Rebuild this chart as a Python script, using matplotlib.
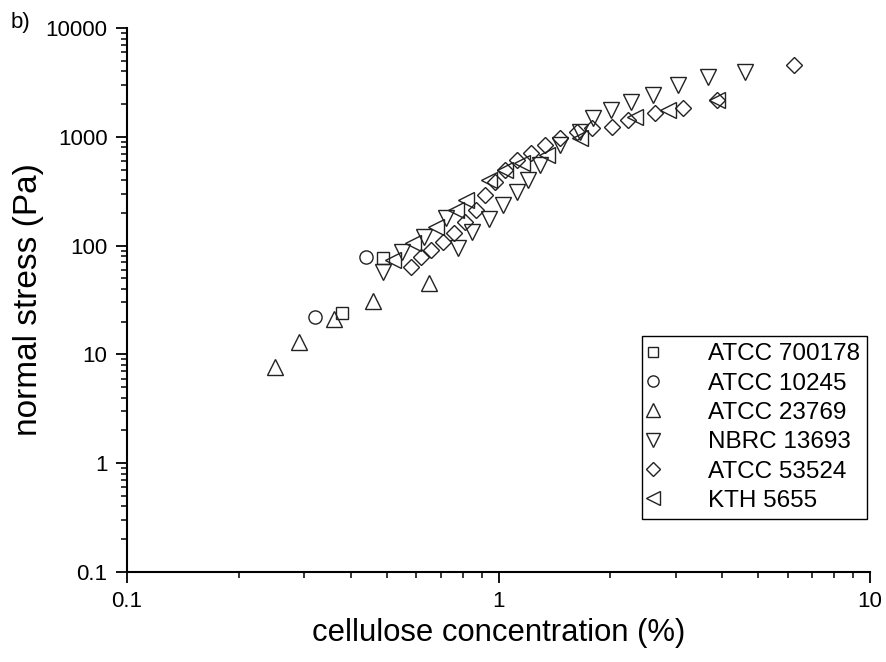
import numpy as np
import matplotlib.pyplot as plt
from matplotlib.ticker import NullFormatter, FixedLocator, FixedFormatter

plt.rcParams['font.family'] = ['Liberation Sans', 'DejaVu Sans']

# cellulose concentration (%) and normal stress (Pa) per strain
atcc700178_x = [0.38, 0.49]
atcc700178_y = [24, 77]

atcc10245_x = [0.32, 0.44]
atcc10245_y = [22, 78]

atcc23769_x = [0.25, 0.29, 0.36, 0.46, 0.65]
atcc23769_y = [7.6, 13, 21, 31, 45]

nbrc13693_x = [0.49, 0.55, 0.63, 0.72,
               0.78, 0.85, 0.94, 1.03, 1.12, 1.20, 1.29, 1.46, 1.66, 1.80,
               2.01, 2.27, 2.61, 3.04, 3.66, 4.61]
nbrc13693_y = [57, 87, 120, 179,
               95, 133, 175, 236, 311, 401, 551, 841, 1107, 1489,
               1763, 2090, 2423, 2993, 3545, 3943]

atcc53524_x = [0.58, 0.62, 0.66, 0.71, 0.76, 0.81, 0.87, 0.92, 0.98, 1.04,
               1.12, 1.22, 1.33, 1.46, 1.63, 1.79, 2.02, 2.23, 2.64, 3.14,
               3.87, 6.24]
atcc53524_y = [64, 79, 91, 108, 131, 165, 212, 292, 385, 495,
               612, 710, 841, 975, 1107, 1205, 1230, 1427, 1655, 1840,
               2180, 4570]

kth5655_x = [0.52, 0.59, 0.68, 0.77, 0.82, 0.94, 1.04, 1.16, 1.35, 1.66,
             2.33, 2.86, 3.87]
kth5655_y = [74, 106, 148, 212, 262, 401, 495, 574, 680, 975,
             1520, 1763, 2180]

series = [
    (atcc700178_x, atcc700178_y, 's', 8.6, 'ATCC 700178'),
    (atcc10245_x, atcc10245_y, 'o', 9.5, 'ATCC 10245'),
    (atcc23769_x, atcc23769_y, '^', 11.5, 'ATCC 23769'),
    (nbrc13693_x, nbrc13693_y, 'v', 11.5, 'NBRC 13693'),
    (atcc53524_x, atcc53524_y, 'D', 8.6, 'ATCC 53524'),
    (kth5655_x, kth5655_y, '<', 11.5, 'KTH 5655'),
]

fig = plt.figure(figsize=(8.86, 6.62), dpi=100)
ax = fig.add_axes([0.1433, 0.136, 0.8387, 0.8217])

for x, y, m, ms, lab in series:
    ax.plot(x, y, ls='none', marker=m, ms=ms, mfc='none', mec='#222222',
            mew=1.0, label=lab)

ax.set_xscale('log')
ax.set_yscale('log')
ax.set_xlim(0.1, 10)
ax.set_ylim(0.1, 10000)

yt = [0.1, 1, 10, 100, 1000, 10000]
ax.yaxis.set_major_locator(FixedLocator(yt))
ax.yaxis.set_major_formatter(FixedFormatter(['0.1', '1', '10', '100', '1000', '10000']))
xt = [0.1, 1, 10]
ax.xaxis.set_major_locator(FixedLocator(xt))
ax.xaxis.set_major_formatter(FixedFormatter(['0.1', '1', '10']))
ax.xaxis.set_minor_formatter(NullFormatter())
ax.yaxis.set_minor_formatter(NullFormatter())

for s in ['top', 'right']:
    ax.spines[s].set_visible(False)
for s in ['left', 'bottom']:
    ax.spines[s].set_linewidth(1.5)

ax.tick_params(which='major', direction='out', length=8, width=1.3,
               labelsize=16, pad=6)
ax.tick_params(which='minor', direction='out', length=4, width=1.1)

ax.set_xlabel('cellulose concentration (%)', fontsize=22.3, labelpad=4)
ax.set_ylabel('normal stress (Pa)', fontsize=24, labelpad=1)

fig.text(0.012, 0.966, 'b)', fontsize=16, va='center')

leg = ax.legend(loc='lower right', bbox_to_anchor=(0.996, 0.097),
                borderaxespad=0, fontsize=17.5, fancybox=False,
                edgecolor='black', framealpha=1, markerscale=0.85,
                handlelength=0.3, handletextpad=2.1, borderpad=0.3,
                labelspacing=0.3)
leg.get_frame().set_linewidth(1.0)

fig.savefig('out.png', dpi=100)
